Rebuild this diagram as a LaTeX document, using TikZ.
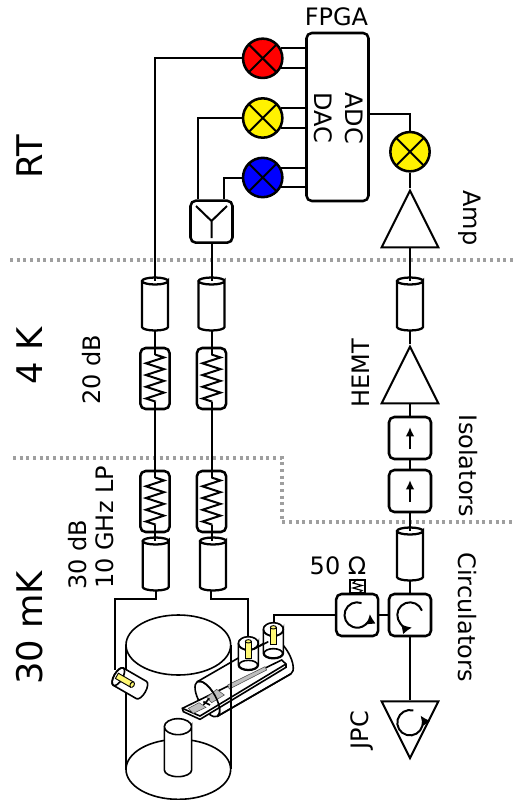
\documentclass[tikz,border=0pt]{standalone}
\usepackage{fontspec}
\setmainfont{DejaVu Sans}
\usetikzlibrary{arrows.meta, positioning, shapes.geometric, decorations.pathmorphing, calc}
\tikzset{
  wire/.style={line width=1.5pt},
  partbox/.style={draw, fill=white, line width=1.9pt, rounded corners=4pt, inner sep=0pt, minimum width=31.5pt, minimum height=31.5pt},
  attbox/.style={partbox, minimum width=22pt, minimum height=45.75pt},
  mixer/.style={draw, circle, line width=1.9pt, inner sep=0pt, minimum size=29.5pt,
    path picture={\draw[line width=1.5pt] (path picture bounding box.south west) -- (path picture bounding box.north east)
      (path picture bounding box.north west) -- (path picture bounding box.south east);}},
  coaxbox/.style={inner sep=0pt, minimum width=19.5pt, minimum height=39.75pt},
  coaxline/.style={draw, fill=white, line width=1.7pt},
  amp/.style={draw, fill=white, isosceles triangle, isosceles triangle stretches, line width=1.5pt, inner sep=0pt, minimum width=42.5pt, minimum height=42.5pt},
  zone/.style={draw=gray!75, line width=2.3pt, dash pattern=on 2.3pt off 2.7pt},
  lab/.style={font=\fontsize{18}{20}\selectfont, inner sep=0pt},
  biglab/.style={font=\fontsize{26.5}{30}\selectfont, inner sep=0pt},
  turn/.style={-{Latex[length=7.5pt,width=7.5pt]}, line width=1.5pt},
  pin/.style={draw, fill=yellow!55, line width=0.7pt},
  pad/.style={fill=gray!50, draw=gray!60!black, line width=0.4pt},
  hold/.style={line width=1.2pt},
}
\begin{document}
\begin{tikzpicture}[x=0.75pt, y=-0.75pt]
\useasboundingbox (0,0) rectangle (514,800);
% temperature stages
\draw[zone] (10,260) -- (514,260);
\draw[zone] (13,458) -- (282,458) -- (282,522) -- (514,522);
\node[biglab, rotate=90] at (30,157) {RT};
\node[biglab, rotate=90] at (30,356) {4 K};
\node[biglab, rotate=90] at (30,628) {30 mK};
% room temperature
\node[partbox, minimum width=46.5pt, minimum height=126pt] (fpga) at (337.5,117) {};
\node[lab] at (336.5,17) {FPGA};
\node[lab, rotate=-90] at (354,118) {ADC};
\node[lab, rotate=-90] at (323,118) {DAC};
\node[mixer, fill=red] (mixr) at (262.7,58.3) {};
\node[mixer, fill=yellow] (mixy) at (262.7,118) {};
\node[mixer, fill=blue] (mixb) at (262.7,177.5) {};
\node[mixer, fill=yellow] (mixo) at (410,151.7) {};
\node[partbox] (split) at (211.5,221.7) {};
\node[amp, shape border rotate=90, anchor=apex] (ampo) at (410,188) {};
\node[lab, rotate=-90] at (470,218) {Amp};
% coax stubs
\foreach \name/\x/\y in {coaxa/155/304, coaxb/211.5/304, coaxo/410/304, coaxc/155.7/564, coaxd/213/564, coaxi/410/554}{
  \node[coaxbox] (\name) at (\x,\y) {};
  \draw[coaxline] (\x-13,\y-23) -- (\x-13,\y+23) arc[start angle=180, end angle=0, x radius=13, y radius=3.5] -- (\x+13,\y-23) arc[start angle=0, end angle=360, x radius=13, y radius=3.5];
}
% attenuators
\foreach \name/\x/\y in {atta/155/378.5, attb/211.5/378.5, attc/155/501.5, attd/211.5/501.5}{
  \node[attbox] (\name) at (\x,\y) {};
  \draw[wire] (\x,\y-30) -- (\x,\y-24);
  \draw[wire, decorate, decoration={zigzag, segment length=8.8pt, amplitude=6.8pt}] (\x,\y-24) -- (\x,\y+23);
  \draw[wire] (\x,\y+23) -- (\x,\y+30);
}
\node[lab, rotate=90] at (92,370) {20 dB};
\node[lab, rotate=90, anchor=west] at (78,590) {30 dB};
\node[lab, rotate=90, anchor=west] at (105,589) {10 GHz LP};
% output chain
\node[amp, shape border rotate=90, anchor=apex] (hemt) at (410,344) {};
\node[lab, rotate=90] at (361,373) {HEMT};
\foreach \name/\y in {isoa/438, isob/491}{
  \node[partbox] (\name) at (410,\y) {};
  \draw[wire, -{Latex[length=7pt,width=6.5pt]}] (410,\y+11) -- (410,\y-11);
}
\node[lab, rotate=-90] at (468,466) {Isolators};
\node[partbox] (circa) at (357.2,615) {};
\node[partbox] (circb) at (410,615) {};
\draw[turn] (circa) ++(-70:12.7) arc[start angle=-70, end angle=-365, radius=12.7];
\draw[turn] (circb) ++(-20:12.7) arc[start angle=-20, end angle=-280, radius=12.7];
\node[draw, fill=white, line width=1.1pt, inner sep=0pt, minimum width=11pt, minimum height=10pt] (term) at (357.5,586.5) {};
\draw[line width=0.9pt] (term.north) -- (353,583) -- (362,585.5) -- (353,588) -- (362,590.5) -- (term.south);
\node[lab] at (338,566) {50 Ω};
\node[lab, rotate=-90] at (467.5,617) {Circulators};
\node[amp, shape border rotate=-90, anchor=apex] (jpc) at (410,760.7) {};
\coordinate (jpcturn) at (410,722.7);
\draw[turn] (jpcturn) ++(-75:12.7) arc[start angle=-75, end angle=-395, radius=12.7];
\node[lab, rotate=90] at (362,730) {JPC};
% wiring
\foreach \m in {mixr,mixy,mixb}{
  \draw[wire] (\m.28) -- (\m.28 -| fpga.west);
  \draw[wire] (\m.-28) -- (\m.-28 -| fpga.west);
}
\draw[wire] (mixr.west) -| ($(coaxa.north)+(0,3.5)$);
\draw[wire] (mixy.west) -| ($(split.north)+(-13.8,0)$);
\draw[wire] (mixb.west) -| ($(split.north)+(12.5,0)$);
\draw[wire] (196,206) -- (211.5,221) -- (227,206) (211.5,221) -- (211.5,238);
\draw[wire] (split.south) -- ($(coaxb.north)+(0,3.5)$);
\draw[wire] ($(fpga.east)+(0,-3)$) -| (mixo.north);
\draw[wire] (mixo.south) -- (ampo.apex);
\draw[wire] (ampo.lower side) -- ($(coaxo.north)+(0,3.5)$);
\draw[wire] (coaxo.south) -- (hemt.apex);
\draw[wire] (hemt.lower side) -- (isoa.north);
\draw[wire] (isoa.south) -- (isob.north);
\draw[wire] (isob.south) -- ($(coaxi.north)+(0,3.5)$);
\draw[wire] (coaxi.south) -- (circb.north);
\draw[wire] (circb.west) -- (circa.east);
\draw[wire] (term.south) -- (circa.north);
\draw[wire] (circb.south) -- (jpc.lower side);
\draw[wire] (coaxa.south) -- (atta.north);
\draw[wire] (coaxb.south) -- (attb.north);
\draw[wire] (atta.south) -- (attc.north);
\draw[wire] (attb.south) -- (attd.north);
\draw[wire] (attc.south) -- ($(coaxc.north)+(-0.7,3.5)$);
\draw[wire] (attd.south) -- ($(coaxd.north)+(-1.5,3.5)$);
% sample holder
\begin{scope}[shift={(100,590)}, x=0.25pt, y=-0.25pt, hold]
  \draw (235,538) ellipse [x radius=157, y radius=90];
  \draw (78,165) -- (78,538);
  \draw (235,165) ellipse [x radius=157, y radius=90];
  \draw[fill=white] (193,410) -- (193,540) arc[start angle=180, end angle=0, x radius=41, y radius=20] -- (275,410) arc[start angle=0, end angle=360, x radius=41, y radius=24];
  % side port
  \begin{scope}[shift={(55,260)}, rotate=-30]
    \draw[fill=white] (0,-30) -- (80,-30) arc[start angle=-90, end angle=90, x radius=13, y radius=30] -- (0,30) arc[start angle=90, end angle=270, x radius=13, y radius=30];
    \draw (0,0) ellipse [x radius=13, y radius=30];
    \draw[pin] (-5,-9) rectangle (48,9);
    \draw[pin] (48,0) ellipse [x radius=6, y radius=9];
  \end{scope}
  % tube with board
  \begin{scope}[shift={(322,327)}, rotate=30]
    \draw (0,0) ellipse [x radius=25, y radius=60];
    \draw (0,-60) -- (255,-60) arc[start angle=-90, end angle=90, x radius=25, y radius=60] -- (0,60);
  \end{scope}
  \draw[fill=white] (247,355) -- (545,210) -- (558,222) -- (558,232) -- (300,388) -- (250,365) -- cycle;
  \draw (247,355) -- (300,378) -- (558,222);
  \draw[pad] (265,355) -- (297,338) -- (318,352) -- (280,370) -- cycle;
  \draw[pad] (320,322) -- (350,298) -- (373,315) -- (335,338) -- cycle;
  \draw (310,335) -- (330,345) (310,345) -- (328,325);
  \draw[pad] (383,285) -- (495,230) -- (500,240) -- (388,297) -- cycle;
  \begin{scope}[shift={(322,327)}, rotate=30]
    \draw (0,-60) arc[start angle=-90, end angle=90, x radius=25, y radius=60];
    \draw (0,60) -- (255,60);
  \end{scope}
  \draw (393,165) -- (393,538);
  % ports on the tube
  \foreach \x/\y/\h in {445/160/65, 520/118/72}{
    \draw[fill=white] (\x-30,\y) -- (\x-30,\y+\h) arc[start angle=180, end angle=0, x radius=30, y radius=16] -- (\x+30,\y) arc[start angle=0, end angle=180, x radius=30, y radius=20];
    \draw (\x,\y) ellipse [x radius=30, y radius=20];
    \draw (\x,\y+\h) ellipse [x radius=28, y radius=14];
    \draw[pin] (\x-9,\y-6) rectangle (\x+9,\y+46);
    \draw[pin] (\x,\y-6) ellipse [x radius=9, y radius=5];
  }
  \draw (460,178) -- (505,155);
\end{scope}
\coordinate (portl) at (115,670);
\coordinate (portm) at (248.3,636.7);
\coordinate (portr) at (274,623);
\draw[wire] (coaxc.south) -- ++(0,8.3) -| (portl);
\draw[wire] (211,590.5) -- (211,599.3) -| (portm);
\draw[wire] (circa.west) -| (portr);
\end{tikzpicture}
\end{document}
